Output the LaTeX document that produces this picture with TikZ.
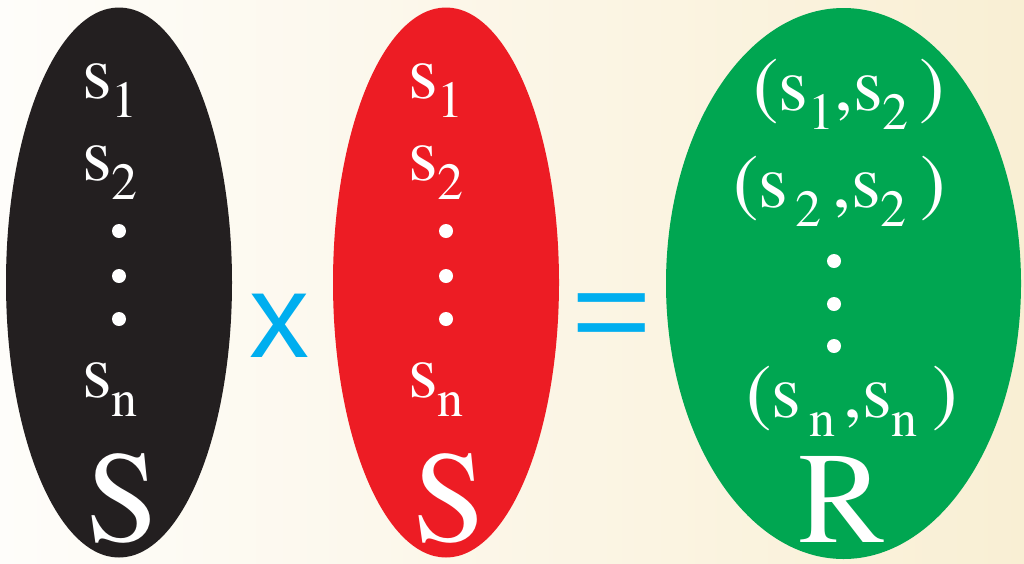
\documentclass[tikz,border=0pt]{standalone}
\usepackage{fontspec}
\newfontfamily\elemfont{texgyretermes-regular.otf}
\newfontfamily\signfont{Liberation Sans}
\usetikzlibrary{shapes.geometric}
\definecolor{setblack}{RGB}{35,31,32}
\definecolor{setred}{RGB}{237,28,36}
\definecolor{setgreen}{RGB}{0,166,81}
\definecolor{opblue}{RGB}{0,174,239}
\definecolor{bgleft}{RGB}{254,253,250}
\definecolor{bgmid}{RGB}{253,250,240}
\definecolor{bgright}{RGB}{249,239,212}
\newcommand{\idx}[1]{\raisebox{-19pt}{\fontsize{52}{52}\selectfont #1}}
\begin{document}
\begin{tikzpicture}[x=1pt, y=-1pt,
    setoval/.style={ellipse, inner sep=0pt, minimum height=550pt},
    elem/.style={anchor=base west, inner sep=0pt, text=white, font=\elemfont\fontsize{76}{76}\selectfont},
    bigname/.style={anchor=base, inner sep=0pt, text=white, font=\elemfont\fontsize{130}{130}\selectfont},
    dotmark/.style={circle, fill=white, inner sep=0pt, minimum size=14pt},
    opsign/.style={anchor=base, inner sep=0pt, text=opblue, font=\signfont\fontsize{120}{120}\selectfont},
]
\fill[left color=bgleft, middle color=bgmid, right color=bgright] (0,0) rectangle (1024,563);
\useasboundingbox (0,0) rectangle (1024,563);

\node[setoval, fill=setblack, minimum width=226pt] (setA) at (119,282.5) {};
\node[setoval, fill=setred, minimum width=226pt] (setB) at (446,282.5) {};
\node[setoval, fill=setgreen, minimum width=355pt, minimum height=551pt] (setR) at (843.5,283.5) {};

\node[elem] (a1) at (82,98) {s\idx{1}};
\node[elem] (a2) at (82,180) {s\idx{2}};
\node[elem] (an) at (82,397) {s\idx{n}};
\foreach \y/\n in {231/1,276/2,319/3}
    \node[dotmark] (adot\n) at (119,\y) {};
\node[bigname] (nameA) at (123,541) {S};

\node[opsign] (times) at (279,357) {x};

\node[elem] (b1) at (408,98) {s\idx{1}};
\node[elem] (b2) at (408,180) {s\idx{2}};
\node[elem] (bn) at (408,397) {s\idx{n}};
\foreach \y/\n in {231/1,276/2,319/3}
    \node[dotmark] (bdot\n) at (446,\y) {};
\node[bigname] (nameB) at (450,541) {S};

\node[opsign, anchor=center] (equals) at (612,323.5) {\scalebox{1.15}[1]{=}};

\node[elem] (r1) at (753,110) {(s\idx{1},s\idx{2}\hspace{11pt})};
\node[elem] (r2) at (733,207) {(s\hspace{7pt}\idx{2}\hspace{11pt},s\idx{2}\hspace{14pt})};
\node[elem] (rn) at (746,417) {(s\hspace{8pt}\idx{n}\hspace{8pt},s\idx{n}\hspace{15pt})};
\foreach \y/\n in {261/1,304/2,346/3}
    \node[dotmark] (rdot\n) at (834,\y) {};
\node[bigname] (nameR) at (842,542) {R};
\end{tikzpicture}
\end{document}
